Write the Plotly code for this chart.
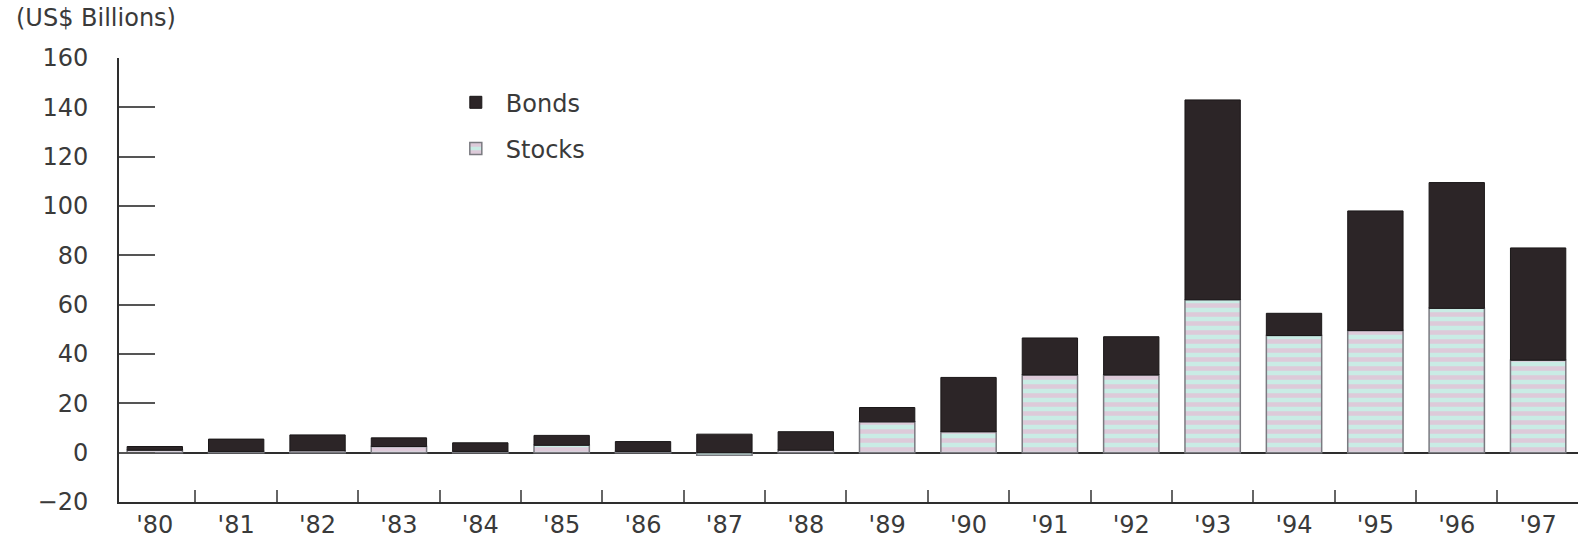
import plotly.graph_objects as go

years = ["'80", "'81", "'82", "'83", "'84", "'85", "'86", "'87", "'88",
         "'89", "'90", "'91", "'92", "'93", "'94", "'95", "'96", "'97"]
stocks = [1.0, 0.5, 0.8, 2.5, 0.5, 3.0, 0.5, -1.0, 1.0,
          12.5, 8.5, 31.5, 31.5, 62.0, 47.5, 49.5, 58.5, 37.5]
bonds = [1.5, 5.0, 6.4, 3.5, 3.5, 4.0, 4.0, 7.5, 7.5,
         5.8, 22.0, 15.0, 15.5, 81.0, 9.0, 48.5, 51.0, 45.5]
y_ticks = [-20, 0, 20, 40, 60, 80, 100, 120, 140, 160]

FONT = "DejaVu Sans"
TXT = "#3a3a3a"
AX = "#2e2e2e"
FS = 24

fig = go.Figure()
fig.add_trace(go.Bar(
    x=years, y=stocks, name="Stocks", legendgroup="s", legendrank=2,
    width=0.68,
    marker=dict(color="#c9ece5",
                line=dict(color="#7a7a80", width=1.5),
                pattern=dict(shape="-", fgcolor="#f2a8cd", bgcolor="#c9ece5",
                             size=9, solidity=0.5, fillmode="overlay")),
))
fig.add_trace(go.Bar(
    x=years, y=bonds, name="Bonds", legendgroup="b", legendrank=1,
    width=0.68,
    marker=dict(color="#2c2527", line=dict(color="#1a1718", width=1)),
))

fig.update_layout(
    width=1580, height=540,
    barmode="relative",
    paper_bgcolor="white", plot_bgcolor="white",
    margin=dict(l=119, r=2, t=58, b=38),
    font=dict(family=FONT, size=FS, color=TXT),
    showlegend=True,
    legend=dict(x=0.224, y=0.95, xanchor="left", yanchor="top",
                traceorder="grouped", tracegroupgap=12,
                itemwidth=50, bgcolor="rgba(0,0,0,0)",
                font=dict(family=FONT, size=FS, color=TXT)),
    xaxis=dict(type="category", range=[-0.44, 17.49],
               showline=True, linecolor=AX, linewidth=2,
               ticks="inside", tickson="boundaries", ticklen=12,
               tickwidth=2, tickcolor="#666",
               showgrid=False, zeroline=False,
               tickfont=dict(family=FONT, size=FS, color=TXT)),
    yaxis=dict(range=[-20, 160], tickvals=y_ticks,
               showline=True, linecolor=AX, linewidth=2,
               ticks="inside", ticklen=36, tickwidth=2, tickcolor="#555",
               ticklabelstandoff=24,
               showgrid=False, zeroline=True, zerolinecolor=AX,
               zerolinewidth=2,
               tickfont=dict(family=FONT, size=FS, color=TXT)),
    annotations=[dict(text="(US$ Billions)", xref="paper", yref="paper",
                      x=-0.072, y=1.09, xanchor="left", yanchor="middle",
                      showarrow=False,
                      font=dict(family=FONT, size=FS, color=TXT))],
)

fig.write_html("out.html")
